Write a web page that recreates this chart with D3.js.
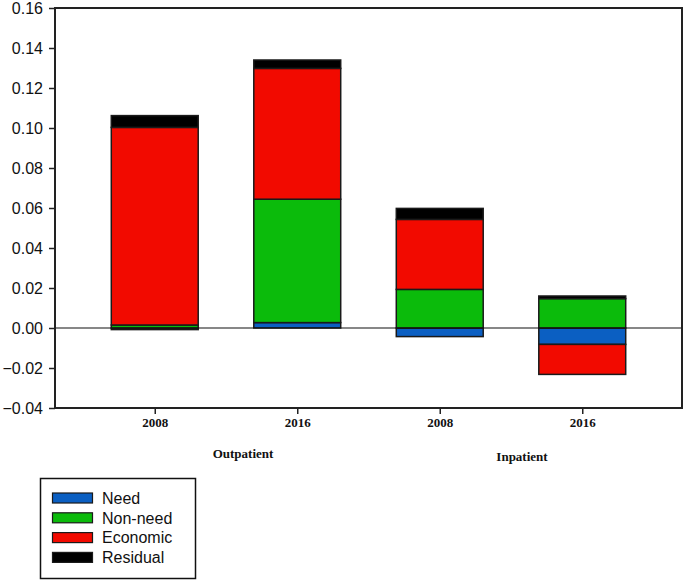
<!DOCTYPE html>
<html>
<head>
<meta charset="utf-8">
<script src="https://cdn.jsdelivr.net/npm/d3@7"></script>
<style>
  html, body { margin: 0; padding: 0; background: #fff; }
  svg { display: block; }
</style>
</head>
<body>
<svg id="chart" width="685" height="580"></svg>
<script>
// ---- Data ----
const categories = ["2008", "2016", "2008", "2016"];
const groups = ["Outpatient", "Inpatient"];
const seriesNames = ["Need", "Non-need", "Economic", "Residual"];
const need     = [-0.0008, 0.0027, -0.0043, -0.0082];
const nonNeed  = [ 0.0015, 0.0617,  0.0193,  0.0147];
const economic = [ 0.0988, 0.0654,  0.0350, -0.0150];
const residual = [ 0.0059, 0.0042,  0.0055,  0.0013];
const yTicks = [-0.04, -0.02, 0.00, 0.02, 0.04, 0.06, 0.08, 0.10, 0.12, 0.14, 0.16];
const colors = ["#0b5fc2", "#0bbb0b", "#f20a00", "#000000"];

const rows = categories.map((c, i) => ({
  idx: i + 1, cat: c,
  "Need": need[i], "Non-need": nonNeed[i], "Economic": economic[i], "Residual": residual[i]
}));

const svg = d3.select("#chart");
const pLeft = 55, pRight = 682, pTop = 8, pBottom = 408;

const x = d3.scaleLinear().domain([0.3, 4.7]).range([pLeft, pRight]);
const y = d3.scaleLinear().domain([-0.04, 0.16]).range([pBottom, pTop]);
const barW = 0.61 * (x(1) - x(0));

const stack = d3.stack().keys(seriesNames).offset(d3.stackOffsetDiverging);
const stacked = stack(rows);

// Bars
svg.append("g").selectAll("g")
  .data(stacked).join("g")
  .attr("fill", (d, i) => colors[i])
  .selectAll("rect")
  .data(d => d).join("rect")
  .attr("x", d => x(d.data.idx) - barW / 2)
  .attr("width", barW)
  .attr("y", d => y(Math.max(d[0], d[1])))
  .attr("height", d => Math.abs(y(d[0]) - y(d[1])))
  .attr("stroke", "#1a1a1a")
  .attr("stroke-width", 1.5);

// Zero line
svg.append("line")
  .attr("x1", pLeft).attr("x2", pRight)
  .attr("y1", y(0)).attr("y2", y(0))
  .attr("stroke", "#111").attr("stroke-width", 1.2);

// Frame
svg.append("rect")
  .attr("x", pLeft).attr("y", pTop)
  .attr("width", pRight - pLeft).attr("height", pBottom - pTop)
  .attr("fill", "none").attr("stroke", "#222").attr("stroke-width", 2);

// Y axis
const yAxis = d3.axisLeft(y).tickValues(yTicks).tickSize(6).tickPadding(6)
  .tickFormat(d3.format(".2f"));
const gy = svg.append("g").attr("transform", `translate(${pLeft},0)`).call(yAxis);
gy.select(".domain").remove();
gy.selectAll("line").attr("stroke", "#222").attr("stroke-width", 1.5);
gy.selectAll("text")
  .attr("font-family", "Liberation Sans, Arial, sans-serif")
  .attr("font-size", 16).attr("fill", "#111");

// X axis
const xAxis = d3.axisBottom(x).tickValues(rows.map(r => r.idx)).tickSize(6).tickPadding(4)
  .tickFormat((d, i) => categories[i]);
const gx = svg.append("g").attr("transform", `translate(0,${pBottom})`).call(xAxis);
gx.select(".domain").remove();
gx.selectAll("line").attr("stroke", "#222").attr("stroke-width", 1.5);
gx.selectAll("text")
  .attr("font-family", "Liberation Serif, Times New Roman, serif")
  .attr("font-weight", "bold")
  .attr("font-size", 13).attr("fill", "#111");

// Group labels
const groupPos = [[243, 458], [522, 461]];
svg.append("g").selectAll("text")
  .data(groups).join("text")
  .attr("x", (d, i) => groupPos[i][0])
  .attr("y", (d, i) => groupPos[i][1])
  .attr("text-anchor", "middle")
  .attr("font-family", "Liberation Serif, Times New Roman, serif")
  .attr("font-weight", "bold")
  .attr("font-size", 13).attr("fill", "#111")
  .text(d => d);

// Legend
const lg = svg.append("g");
lg.append("rect")
  .attr("x", 40.5).attr("y", 478.5).attr("width", 155).attr("height", 100)
  .attr("fill", "#fff").attr("stroke", "#111").attr("stroke-width", 1.5);
const items = lg.selectAll("g.item").data(seriesNames).join("g")
  .attr("class", "item")
  .attr("transform", (d, i) => `translate(0,${498 + i * 19.8})`);
items.append("rect")
  .attr("x", 52.5).attr("y", -5).attr("width", 40).attr("height", 10)
  .attr("fill", (d, i) => colors[i])
  .attr("stroke", "#1a1a1a").attr("stroke-width", 1.2);
items.append("text")
  .attr("x", 102).attr("y", 0).attr("dy", "0.36em")
  .attr("font-family", "Liberation Sans, Arial, sans-serif")
  .attr("font-size", 16).attr("fill", "#111")
  .text(d => d);
</script>
</body>
</html>
